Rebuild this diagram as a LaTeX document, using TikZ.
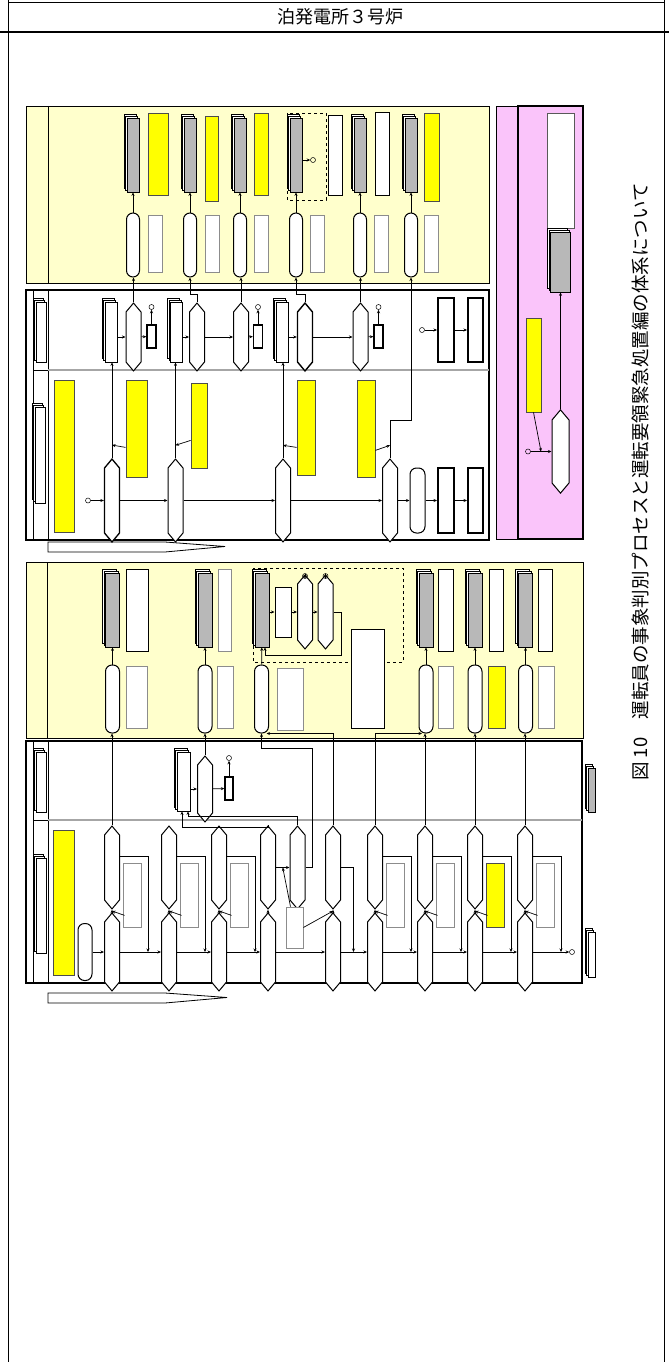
\documentclass[tikz,border=0pt]{standalone}
\usepackage{fontspec}
\newfontfamily\jpfont{Noto Sans CJK JP}
\usepackage{tikz}
\usetikzlibrary{positioning,arrows.meta,calc,shapes.symbols,shadows}
\definecolor{panelyellow}{RGB}{255,255,204}
\definecolor{panelpink}{RGB}{250,196,250}
\definecolor{noteyellow}{RGB}{255,255,0}
\tikzset{
  hexbox/.style={signal, signal to=north and south, signal pointer angle=80, draw,
    line width=1pt, fill=white, inner sep=0pt, minimum width=15pt},
  stadbox/.style={draw, line width=1pt, fill=white, rounded corners=6.5pt,
    inner sep=0pt, minimum width=13pt},
  docbox/.style={draw, line width=0.7pt, fill=black!28, inner sep=0pt, minimum width=12pt,
    double copy shadow={shadow xshift=-1.5pt, shadow yshift=2pt, fill=white, draw=black, line width=0.6pt}},
  docwhite/.style={docbox, fill=white},
  notebox/.style={draw=black!45, line width=0.8pt, fill=white, inner sep=0pt},
  keybox/.style={draw, line width=1pt, fill=white, inner sep=0pt},
  thickbox/.style={draw, line width=2pt, fill=white, inner sep=0pt},
  yelbox/.style={draw=black!70, line width=0.8pt, fill=noteyellow, inner sep=0pt},
  circnum/.style={circle, draw, line width=0.5pt, inner sep=0pt, minimum size=5pt},
  flowarrow/.style={-{Stealth[length=3.5pt,width=3pt]}, line width=0.7pt},
  lanediv/.style={draw=black!35, line width=1.2pt},
  phasearrow/.style={draw, line width=0.8pt, fill=white},
}

\begin{document}
\begin{tikzpicture}[x=1pt, y=-1pt]
  \useasboundingbox (0,0) rectangle (669,1362);
  % page frame and header
  \draw[line width=0.8pt] (8.5,2) -- (664.5,2);
  \draw[line width=1pt] (8.5,0) -- (8.5,1362) (664.5,0) -- (664.5,1362);
  \draw[line width=2pt] (0,32.5) -- (669,32.5);
  \node[font=\jpfont\fontsize{18}{18}\selectfont] (plant) at (340,17) {泊発電所３号炉};

  % ---- upper sheet ----
  \draw[fill=panelyellow, line width=0.8pt] (26,106) rectangle (489,283);
  \draw[line width=0.8pt] (48,106) -- (48,283);
  \draw[fill=white, line width=1.5pt] (26,290) rectangle (489,540);
  \draw[line width=0.8pt] (33,290) -- (33,540) (48,290) -- (48,540);
  \draw[lanediv] (48,370) -- (489,370);
  \draw[line width=0.6pt] (33,370) -- (48,370);
  \node[docwhite, minimum width=10pt, minimum height=60pt] (ukey1) at (41,332) {};
  \node[docwhite, minimum width=10pt, minimum height=96pt] (ukey2) at (40,455) {};
  \draw[phasearrow] (48,542) -- (165,542) -- (225,546.5) -- (165,552) -- (48,552) -- cycle;

  % upper yellow columns
  \foreach \n/\cx/\bx/\bw/\bh/\by/\bs/\nx in {1/133/158/20/82/154/yelbox/155,
      2/190/211.5/13/85/158.5/yelbox/212.5, 3/240/261/14/82/154/yelbox/261,
      4/296/335/14/79/155.5/keybox/317, 5/360/382/14/82/154/keybox/381.5,
      6/411/431.5/15/88/157/yelbox/431.5}
  {
    \node[docbox, minimum height=74pt] (ud\n) at (\cx,155) {};
    \node[\bs, minimum width=\bw pt, minimum height=\bh pt] (ub\n) at (\bx,\by) {};
    \node[stadbox, minimum height=64pt] (us\n) at (\cx,245) {};
    \node[notebox, minimum width=14pt, minimum height=57pt] (un\n) at (\nx,243.5) {};
    \draw[flowarrow] (us\n) -- (ud\n);
  }
  \draw[dashed, line width=0.9pt] (287,113) rectangle (326,200);
  \node[circnum] (uc4) at (313,160) {};
  \draw[flowarrow] (ud4.east |- uc4) -- (uc4);

  % upper sheet, first lane
  \node[docwhite, minimum height=60pt] (udoc1) at (111,332) {};
  \node[hexbox, minimum height=50pt] (uhex1) at (133.5,337) {};
  \node[keybox, line width=1.3pt, minimum width=9pt, minimum height=23pt] (usb1) at (151.5,336.5) {};
  \node[circnum] (ucn1) at (151.5,307) {};
  \node[docwhite, minimum height=60pt] (udoc2) at (176.5,332) {};
  \node[hexbox, minimum height=50pt] (uhex2) at (197,337) {};
  \node[hexbox, minimum height=50pt] (uhex3) at (241,337) {};
  \node[keybox, line width=1.3pt, minimum width=9pt, minimum height=23pt] (usb3) at (258,336.5) {};
  \node[circnum] (ucn3) at (258,307) {};
  \node[docwhite, minimum height=60pt] (udoc4) at (282,332) {};
  \node[hexbox, line width=1.4pt, minimum height=50pt] (uhex4) at (305,337) {};
  \node[hexbox, minimum height=50pt] (uhex5) at (360.5,337) {};
  \node[keybox, line width=1.3pt, minimum width=9pt, minimum height=23pt] (usb5) at (378.5,336.5) {};
  \node[circnum] (ucn5) at (378.5,307) {};
  \node[circnum] (ucn6) at (422,330) {};
  \node[thickbox, minimum width=16pt, minimum height=64pt] (utb1) at (446,330) {};
  \node[thickbox, minimum width=15pt, minimum height=64pt] (utb2) at (475.5,330) {};
  \draw[flowarrow] (udoc1.east |- uhex1) -- (uhex1);
  \draw[flowarrow] (uhex1) -- (usb1);
  \draw[flowarrow] (usb1) -- (ucn1);
  \draw[flowarrow] (udoc2.east |- uhex2) -- (uhex2);
  \draw[flowarrow] (uhex2) -- (uhex3);
  \draw[flowarrow] (uhex3) -- (usb3);
  \draw[flowarrow] (usb3) -- (ucn3);
  \draw[flowarrow] (udoc4.east |- uhex4) -- (uhex4);
  \draw[flowarrow] (uhex4) -- (uhex5);
  \draw[flowarrow] (uhex5) -- (usb5);
  \draw[flowarrow] (usb5) -- (ucn5);
  \draw[flowarrow] (ucn6) -- (utb1);
  \draw[flowarrow] (utb1) -- (utb2);
  \draw[flowarrow] (uhex1.north) -- (uhex1.north |- us1.south);
  \draw[flowarrow] (uhex2.north) -- ++(0,-8) -| (us2.south);
  \draw[flowarrow] (uhex3.north) -- (uhex3.north |- us3.south);
  \draw[flowarrow] (uhex4.north) -- ++(0,-8) -| (us4.south);
  \draw[flowarrow] (uhex5.north) -- (uhex5.north |- us5.south);

  % upper sheet, second lane
  \node[yelbox, minimum width=20pt, minimum height=152pt] (ybig1) at (64,456) {};
  \node[circnum] (ustart) at (88,500.5) {};
  \node[hexbox, line width=1.3pt, minimum height=65pt] (hl1) at (112,500.5) {};
  \node[hexbox, minimum height=65pt] (hl2) at (175.5,500.5) {};
  \node[hexbox, minimum height=65pt] (hl3) at (283,500.5) {};
  \node[hexbox, minimum height=65pt] (hl4) at (390,500.5) {};
  \node[stadbox, minimum width=15pt, minimum height=65pt] (stl) at (417.5,500.5) {};
  \node[thickbox, minimum width=16pt, minimum height=65pt] (tbl1) at (446,500.5) {};
  \node[thickbox, minimum width=15pt, minimum height=65pt] (tbl2) at (475.5,500.5) {};
  \draw[flowarrow] (ustart) -- (hl1);
  \draw[flowarrow] (hl1) -- (hl2);
  \draw[flowarrow] (hl2) -- (hl3);
  \draw[flowarrow] (hl3) -- (hl4);
  \draw[flowarrow] (hl4) -- (stl);
  \draw[flowarrow] (stl) -- (tbl1);
  \draw[flowarrow] (tbl1) -- (tbl2);
  \draw[flowarrow] (hl1.north) -- (hl1.north |- udoc1.south);
  \draw[flowarrow] (hl2.north) -- (hl2.north |- udoc2.south);
  \draw[flowarrow] (hl3.north) -- (hl3.north |- udoc4.south);
  \draw[flowarrow] (hl4.north) -- (390,420) -| (us6.south);
  \node[yelbox, minimum width=21pt, minimum height=97pt] (yn1) at (136.5,428.5) {};
  \node[yelbox, minimum width=16pt, minimum height=85pt] (yn2) at (199,425.5) {};
  \node[yelbox, minimum width=18pt, minimum height=95pt] (yn3) at (306,427.5) {};
  \node[yelbox, minimum width=18pt, minimum height=97pt] (yn4) at (366,428.5) {};
  \draw[flowarrow] ($(yn1.south west)+(0,-30)$) -- ($(hl1.north)+(0,-13)$);
  \draw[flowarrow] ($(yn2.south west)+(0,-28)$) -- ($(hl2.north)+(0,-13)$);
  \draw[flowarrow] ($(yn3.south west)+(0,-28)$) -- ($(hl3.north)+(0,-13)$);
  \draw[flowarrow] ($(yn4.south east)+(0,-27)$) -- ($(hl4.north)+(0,-13)$);

  % ---- pink sheet ----
  \draw[fill=panelpink, line width=0.8pt] (496,106) rectangle (583,539);
  \draw[line width=1.5pt] (518,106) rectangle (583,539);
  \node[notebox, draw=black!65, minimum width=27pt, minimum height=115pt] (pbox) at (560.5,170.5) {};
  \node[docbox, minimum width=20pt, minimum height=60pt] (pdoc) at (560.5,262) {};
  \node[yelbox, minimum width=15pt, minimum height=94pt] (pnote) at (533.5,365) {};
  \node[hexbox, minimum width=17pt, minimum height=63pt] (phex) at (560.5,451.5) {};
  \node[circnum] (pcn) at (528,451.5) {};
  \coordinate (pjoin) at (541,451.5);
  \draw[flowarrow] (pcn) -- (phex);
  \draw[flowarrow] (pnote.south) -- (pjoin);
  \draw[flowarrow] (phex) -- (pdoc);

  % ---- lower sheet ----
  \draw[fill=panelyellow, line width=0.8pt] (26,562) rectangle (583,738);
  \draw[line width=0.8pt] (47,562) -- (47,738);
  \draw[fill=white, line width=1.5pt] (26,741) rectangle (582,983);
  \draw[line width=0.8pt] (33,741) -- (33,983) (48,741) -- (48,983);
  \draw[lanediv] (48,820) -- (582,820);
  \draw[line width=0.6pt] (33,820) -- (48,820);
  \node[docwhite, minimum width=10pt, minimum height=60pt] (lkey1) at (41,782) {};
  \node[docwhite, minimum width=10pt, minimum height=95pt] (lkey2) at (41,905.5) {};
  \draw[phasearrow] (48,993) -- (165,993) -- (227,997.5) -- (165,1003) -- (48,1003) -- cycle;

  % lower yellow columns
  \foreach \n/\cx/\bx/\bw/\bs/\nx/\nw/\ns in {1/112.5/137/22/keybox/136.5/21/notebox,
      2/205/224.5/13/notebox/225/16/notebox, 4/426/445.5/15/keybox/445.5/15/notebox,
      5/475/496/14/keybox/496.5/17/yelbox, 6/525.5/545/14/keybox/546/16/notebox}
  {
    \node[docbox, minimum width=14pt, minimum height=74pt] (ld\n) at (\cx,610) {};
    \node[\bs, minimum width=\bw pt, minimum height=82pt] (lb\n) at (\bx,610.5) {};
    \node[stadbox, minimum width=14pt, minimum height=68pt] (ls\n) at (\cx,699) {};
    \node[\ns, minimum width=\nw pt, minimum height=62pt] (ln\n) at (\nx,697) {};
    \draw[flowarrow] (ls\n) -- (ld\n);
  }
  \draw[dashed, line width=0.9pt] (253,568) rectangle (403,662);
  \node[docbox, minimum width=14pt, minimum height=74pt] (ld3) at (262,610) {};
  \node[keybox, minimum width=16pt, minimum height=50pt] (lb3) at (283,612) {};
  \node[hexbox, minimum height=56pt] (lha) at (305,612) {};
  \node[hexbox, minimum height=56pt] (lhb) at (325.5,612) {};
  \node[circnum] (lca) at (305,576) {};
  \node[circnum] (lcb) at (325.5,576) {};
  \node[stadbox, minimum width=14pt, minimum height=68pt] (ls3) at (261.5,699) {};
  \node[notebox, minimum width=26pt, minimum height=62pt] (ln3) at (290,699) {};
  \node[keybox, minimum width=33pt, minimum height=99pt] (lbig) at (367.5,678.5) {};
  \draw[flowarrow] (ls3) -- (ld3);
  \draw[flowarrow] (ld3.east |- lb3) -- (lb3);
  \draw[flowarrow] (lb3) -- (lha);
  \draw[flowarrow] (lha) -- (lhb);
  \draw[flowarrow] (lha) -- (lca);
  \draw[flowarrow] (lhb) -- (lcb);
  \draw[flowarrow] (lhb.east) -- (341,612) -- (341,655) -| ($(ld3.south)+(3,0)$);

  % lower sheet, first lane
  \node[docwhite, minimum width=13pt, minimum height=59pt] (lkdoc) at (183.5,781.5) {};
  \node[hexbox, minimum height=48pt] (lkhex) at (205,789) {};
  \node[keybox, line width=1.3pt, minimum width=8pt, minimum height=23pt] (lksb) at (229,788.5) {};
  \node[circnum] (lkc) at (229,758) {};
  \draw[flowarrow] (lkdoc.east |- lkhex) -- (lkhex);
  \draw[flowarrow] (lkhex) -- (lksb);
  \draw[flowarrow] (lksb) -- (lkc);
  \draw[flowarrow] (lkhex.north) -- (lkhex.north |- ls2.south);

  % lower sheet, second lane
  \node[yelbox, minimum width=21pt, minimum height=145pt] (ybig2) at (63.5,902.5) {};
  \node[stadbox, minimum width=14pt, minimum height=57pt] (lstart) at (85,952) {};
  \foreach \n/\cx in {1/112,2/169,3/219,4/268,5/333,6/375,7/425,8/475,9/525}
  {
    \node[hexbox, minimum height=60pt] (bh\n) at (\cx,952) {};
    \node[hexbox, minimum height=65pt] (uh\n) at (\cx,867.5) {};
    \draw[flowarrow] (bh\n) -- (uh\n);
  }
  \draw[flowarrow] (lstart) -- (bh1);
  \foreach \a/\b in {1/2,2/3,3/4,4/5,5/6,6/7,7/8,8/9}
    \draw[flowarrow] (bh\a) -- (bh\b);
  \node[circnum] (lend) at (572,952) {};
  \draw[flowarrow] (bh9) -- (lend);
  \foreach \n/\cx/\ns in {1/112/notebox,2/169/notebox,3/219/notebox,6/375/notebox,
      7/425/notebox,8/475/yelbox,9/525/notebox}
  {
    \node[\ns, minimum width=18pt, minimum height=64pt] (nt\n) at (\cx+20,895) {};
    \draw[flowarrow] ($(nt\n.south west)+(2,-12)$) -- ($(bh\n.north)!0.5!(uh\n.south)$);
    \draw[flowarrow] ($(uh\n.east)+(0,-11)$) -| ($(bh\n.east)+(28,0)$);
  }
  \node[hexbox, minimum height=65pt] (uhx) at (297.5,867.5) {};
  \node[notebox, minimum width=17pt, minimum height=41pt] (nt45) at (294.5,927.5) {};
  \draw[flowarrow] (uh4) -- (uhx);
  \draw[flowarrow] (uh5.east) -| ($(bh5.east)+(12.5,0)$);
  \draw[flowarrow] ($(nt45.north)+(-4,0)$) -- ($(uh4.east)!0.5!(uhx.west)$);
  \draw[flowarrow] (nt45.east) -- ($(bh5.north)!0.5!(uh5.south)$);
  \draw[flowarrow] (uh1.north) -- (uh1.north |- ls1.south);
  \draw[flowarrow] (uh4.north) -- (268,827) -| ($(lkdoc.south)+(-1.5,0)$);
  \draw[flowarrow] (uhx.north) -- (297.5,816) -| ($(lkdoc.south)+(4.5,0)$);
  \draw[flowarrow] (uhx.east) -- (312,867.5) -- (312,748) -| (ls3.south);
  \draw[flowarrow] (uh5.north) |- ($(ls3.south)+(5,0)$);
  \draw[flowarrow] (uh6.north) |- ($(ls4.south)+(-4,0)$);
  \draw[flowarrow] (uh7.north) -- (uh7.north |- ls4.south);
  \draw[flowarrow] (uh8.north) -- (uh8.north |- ls5.south);
  \draw[flowarrow] (uh9.north) -- (uh9.north |- ls6.south);

  % legend symbols
  \node[docbox, minimum width=7pt, minimum height=44pt] (keygray) at (591.5,790) {};
  \node[docwhite, minimum width=7pt, minimum height=45pt] (keywhite) at (591.5,954.5) {};

  % caption
  \node[rotate=90, font=\jpfont\fontsize{18.5}{20}\selectfont] (caption) at (640,482)
    {図 10\quad 運転員の事象判別プロセスと運転要領緊急処置編の体系について};
\end{tikzpicture}
\end{document}
